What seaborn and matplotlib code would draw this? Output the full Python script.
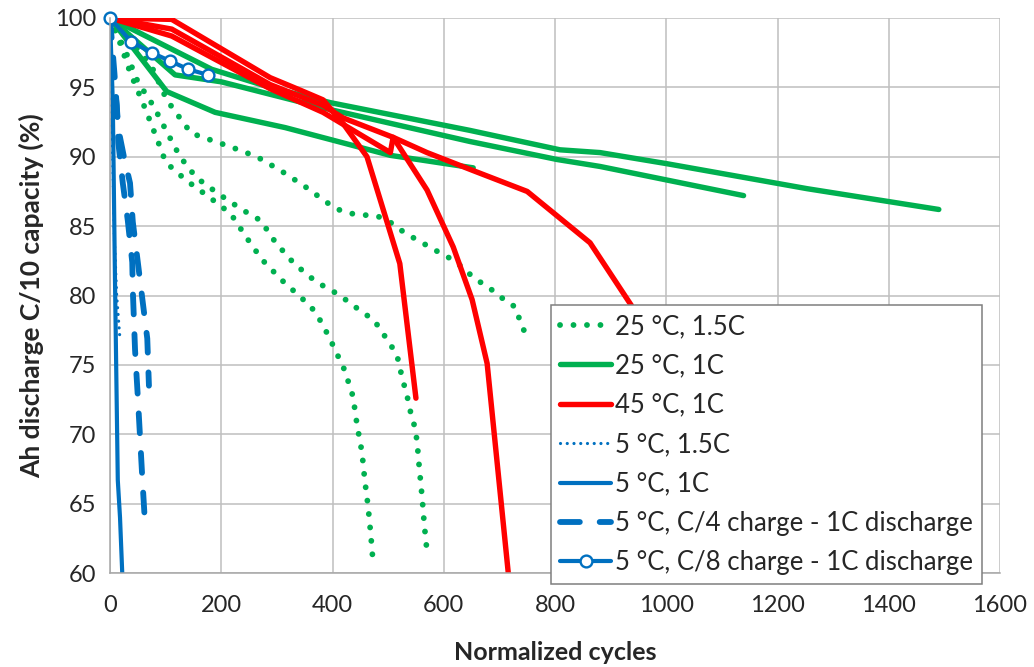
import matplotlib
matplotlib.use("Agg")
import matplotlib.pyplot as plt
import seaborn as sns
import pandas as pd

# ---------------- data ----------------
series_labels = ["25 °C, 1.5C", "25 °C, 1C", "45 °C, 1C", "5 °C, 1.5C",
                 "5 °C, 1C", "5 °C, C/4 charge - 1C discharge",
                 "5 °C, C/8 charge - 1C discharge"]

# 25 °C, 1.5C (three cells)
g15_cycles = [
    [0, 18, 36, 64, 92, 100, 137, 178, 217, 245, 273, 309, 345, 363, 378, 390,
     401, 422, 437, 444, 453, 458, 464, 469, 473],
    [0, 30, 50, 79, 102, 126, 155, 196, 237, 271, 298, 331, 370, 414, 433, 475,
     502, 516, 521, 527, 534, 539, 548, 552, 556, 561, 565, 570],
    [0, 45, 75, 102, 131, 146, 167, 218, 264, 307, 349, 390, 410, 435, 458, 482,
     507, 527, 548, 570, 592, 615, 635, 653, 672, 694, 714, 728, 737, 746],
]
g15_cap = [
    [100, 98.2, 96.1, 93.4, 90.5, 89.6, 88.3, 87.1, 85.9, 84.2, 82.6, 81.1, 79.8,
     79.1, 78.2, 77.3, 76.4, 74.6, 72.7, 70.7, 68.7, 66.7, 64.8, 62.7, 60.7],
    [100, 97.4, 95.4, 93.6, 91.8, 90.0, 88.5, 87.3, 86.2, 85.4, 83.8, 82.3, 81.0,
     80.0, 79.4, 78.2, 76.6, 75.7, 74.8, 73.8, 72.8, 71.8, 70.5, 69.5, 67.6, 65.5,
     63.5, 61.5],
    [100, 98.0, 96.5, 94.1, 92.5, 91.7, 91.4, 90.7, 90.0, 89.0, 87.9, 86.7, 86.2,
     85.9, 85.8, 85.7, 85.2, 84.6, 84.1, 83.6, 83.1, 82.6, 82.0, 81.3, 80.8, 80.2,
     79.5, 79.2, 78.2, 77.3],
]

# 25 °C, 1C
g1_cycles = [
    [0, 183, 288, 396, 647, 809, 881, 1001, 1253, 1490],
    [0, 117, 200, 288, 396, 647, 804, 881, 1139],
    [0, 102, 189, 315, 504, 653],
]
g1_cap = [
    [100, 96.3, 95.0, 93.9, 91.9, 90.5, 90.3, 89.5, 87.7, 86.2],
    [100, 95.9, 95.4, 94.5, 93.4, 91.1, 89.8, 89.3, 87.2],
    [100, 94.7, 93.2, 92.1, 90.1, 89.2],
]

# 45 °C, 1C
r1_cycles = [
    [0, 111, 288, 342, 383, 419, 462, 521, 550],
    [0, 111, 288, 383, 419, 509, 570, 617, 651, 678, 716],
    [0, 111, 288, 383, 504, 509, 570, 653, 750, 863, 937, 990],
]
r1_cap = [
    [100, 99.9, 95.7, 94.8, 94.1, 92.4, 90.0, 82.3, 72.6],
    [100, 99.2, 95.2, 93.7, 92.8, 91.4, 87.6, 83.5, 79.7, 75.1, 60.0],
    [100, 98.7, 94.9, 93.2, 90.3, 91.4, 90.3, 89.0, 87.5, 83.8, 79.3, 74.5],
]

# 5 °C, 1.5C
b15_cycles = [[0, 4, 8, 12, 18]]
b15_cap = [[100, 92, 84, 80, 76.8]]

# 5 °C, 1C
b1_cycles = [[0, 5, 9, 14, 18, 22]]
b1_cap = [[100, 94, 81, 66.7, 64, 60]]

# 5 °C, C/4 charge - 1C discharge
bc4_cycles = [
    [0, 5, 12, 15, 23, 32, 40, 41, 45, 50, 54, 58, 62],
    [0, 8, 15, 25, 36, 41, 50, 58, 67, 70],
]
bc4_cap = [
    [100, 96.5, 93.7, 91.0, 88.1, 85.4, 82.4, 80.4, 76.1, 72.7, 69.8, 66.9, 64.2],
    [100, 96.0, 92.0, 90.0, 88.1, 85.3, 82.4, 79.8, 76.9, 73.5],
]

# 5 °C, C/8 charge - 1C discharge
bc8_cycles = [[0, 38, 75, 108, 141, 176]]
bc8_cap = [[100, 98.3, 97.5, 96.9, 96.3, 95.9]]

xticks = [0, 200, 400, 600, 800, 1000, 1200, 1400, 1600]
yticks = [60, 65, 70, 75, 80, 85, 90, 95, 100]

# ---------------- styling ----------------
GREEN = "#00B050"
RED = "#FF0000"
BLUE = "#0070C0"

sns.set_theme(style="white")
plt.rcParams["font.family"] = ["Lato", "DejaVu Sans"]

fig = plt.figure(figsize=(10.34, 6.67), dpi=100)
ax = fig.add_axes([110 / 1034, 1 - 573 / 667, 890 / 1034, 555 / 667])

styles = [
    dict(color=GREEN, lw=4.2, linestyle=(0, (0.01, 2.3)), dash_capstyle="round"),
    dict(color=GREEN, lw=3.9, linestyle="-", solid_capstyle="round"),
    dict(color=RED, lw=3.9, linestyle="-", solid_capstyle="round"),
    dict(color=BLUE, lw=2.3, linestyle=(0, (0.01, 2.1)), dash_capstyle="round"),
    dict(color=BLUE, lw=3.0, linestyle="-"),
    dict(color=BLUE, lw=4.2, linestyle=(0, (3.4, 3.4)), dash_capstyle="round"),
    dict(color=BLUE, lw=3.0, linestyle="-", marker="o", markersize=8.5,
         markerfacecolor="white", markeredgecolor=BLUE, markeredgewidth=1.7,
         clip_on=False),
]

all_x = [g15_cycles, g1_cycles, r1_cycles, b15_cycles, b1_cycles, bc4_cycles, bc8_cycles]
all_y = [g15_cap, g1_cap, r1_cap, b15_cap, b1_cap, bc4_cap, bc8_cap]

handles = []
for label, xs, ys, st in zip(series_labels, all_x, all_y, styles):
    first = None
    for cx, cy in zip(xs, ys):
        df = pd.DataFrame({"cycles": cx, "cap": cy})
        n_before = len(ax.get_lines())
        sns.lineplot(data=df, x="cycles", y="cap", ax=ax, sort=False,
                     estimator=None, legend=False, **st)
        if first is None:
            first = ax.get_lines()[n_before]
    first.set_label(label)
    handles.append(first)

ax.set_xlim(0, 1600)
ax.set_ylim(60, 100)
ax.set_xticks(xticks)
ax.set_yticks(yticks)
ax.grid(True, color="#BFBFBF", lw=1.1)
ax.set_axisbelow(True)
for s in ["top", "right"]:
    ax.spines[s].set_visible(False)
for s in ["left", "bottom"]:
    ax.spines[s].set_color("#A6A6A6")
    ax.spines[s].set_linewidth(1.1)
ax.tick_params(axis="both", which="major", direction="out", length=5, width=1.1,
               color="#A6A6A6", labelsize=17)
ax.tick_params(axis="x", pad=11)
ax.tick_params(axis="y", pad=5)
ax.set_xlabel("Normalized cycles", fontsize=18, fontweight="bold", labelpad=18)
ax.set_ylabel("Ah discharge C/10 capacity (%)", fontsize=19, fontweight="bold", labelpad=8)

leg = ax.legend(handles=handles, loc="upper left",
                bbox_to_anchor=((551 - 110) / 890, (573 - 305) / 555),
                frameon=True, fancybox=False, framealpha=1, edgecolor="#7F7F7F",
                prop={"family": "Lato", "size": 18.5}, handlelength=2.0,
                handletextpad=0.15, labelspacing=0.56, borderpad=0.35,
                borderaxespad=0)
leg.get_frame().set_linewidth(1.1)

fig.savefig("out.png", dpi=100)
